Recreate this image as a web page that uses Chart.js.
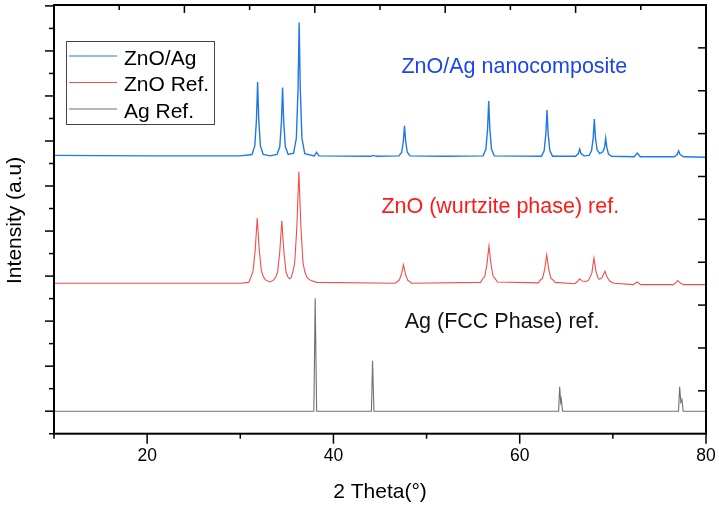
<!DOCTYPE html>
<html>
<head>
<meta charset="utf-8">
<script src="https://cdn.jsdelivr.net/npm/chart.js@4.4.1/dist/chart.umd.min.js"></script>
<style>
  html, body { margin: 0; padding: 0; background: #fff; }
  #wrap { width: 719px; height: 508px; }
</style>
</head>
<body>
<div id="wrap"><canvas id="xrd" width="719" height="508"></canvas></div>
<script>
// 2 theta ticks on the bottom axis
const thetaTicks = [20, 40, 60, 80];
const thetaMinorTicks = [10, 30, 50, 70];

// [2theta, intensity (offset, a.u.)]
const znoAgPattern = [
  [10, 5.68], [20, 5.67], [30, 5.67],
  [31.26, 5.70], [31.56, 5.89], [31.74, 6.49], [31.86, 7.31], [31.98, 6.49], [32.16, 5.89], [32.46, 5.70],
  [33.2, 5.67],
  [33.94, 5.70], [34.24, 5.87], [34.42, 6.43], [34.54, 7.19], [34.66, 6.43], [34.84, 5.87], [35.14, 5.70],
  [35.72, 5.73], [36.02, 6.06], [36.2, 7.15], [36.32, 8.63], [36.44, 7.15], [36.62, 6.06], [36.92, 5.72],
  [37.95, 5.67], [38.19, 5.75], [38.45, 5.67],
  [44.0, 5.66], [44.3, 5.68], [44.6, 5.66],
  [47.03, 5.67], [47.33, 5.75], [47.51, 6.0], [47.63, 6.34], [47.75, 6.0], [47.93, 5.75], [48.23, 5.67],
  [52, 5.66],
  [56.07, 5.67], [56.37, 5.82], [56.55, 6.27], [56.67, 6.89], [56.79, 6.27], [56.97, 5.82], [57.27, 5.67],
  [62.33, 5.66], [62.63, 5.79], [62.81, 6.17], [62.93, 6.69], [63.05, 6.17], [63.23, 5.79], [63.53, 5.66],
  [66.0, 5.66], [66.3, 5.72], [66.44, 5.82], [66.58, 5.72], [66.9, 5.67],
  [67.45, 5.68], [67.71, 5.78], [67.89, 6.07], [68.01, 6.49], [68.13, 6.07], [68.31, 5.80], [68.6, 5.72],
  [68.93, 5.76], [69.11, 5.86], [69.23, 6.06], [69.35, 5.86], [69.53, 5.71], [69.85, 5.66],
  [72.3, 5.65], [72.63, 5.73], [72.95, 5.65],
  [76.6, 5.65], [76.9, 5.70], [77.06, 5.78], [77.22, 5.70], [77.6, 5.65],
  [80, 5.64]
];

const znoRefPattern = [
  [10, 2.84], [20, 2.84], [30, 2.84],
  [30.9, 2.86], [31.17, 2.99], [31.37, 3.11], [31.6, 3.57], [31.82, 4.29], [32.04, 3.57], [32.27, 3.11], [32.47, 2.99], [32.72, 2.91],
  [33.2, 2.87],
  [33.56, 2.91], [33.81, 2.98], [34.01, 3.09], [34.24, 3.54], [34.46, 4.23], [34.68, 3.54], [34.91, 3.09], [35.11, 2.98], [35.3, 2.94],
  [35.45, 2.96], [35.64, 3.09], [35.84, 3.28], [36.07, 4.08], [36.29, 5.32], [36.51, 4.08], [36.74, 3.28], [36.94, 3.09], [37.19, 2.96],
  [37.6, 2.90], [38.2, 2.86],
  [46.62, 2.84], [46.87, 2.88], [47.07, 2.91], [47.3, 3.04], [47.52, 3.25], [47.74, 3.04], [47.97, 2.91], [48.17, 2.88], [48.42, 2.84],
  [55.8, 2.86], [56.05, 2.95], [56.25, 2.99], [56.48, 3.26], [56.7, 3.67], [56.92, 3.26], [57.15, 2.99], [57.35, 2.95], [57.6, 2.87],
  [62.0, 2.85], [62.25, 2.92], [62.45, 2.95], [62.68, 3.15], [62.9, 3.47], [63.12, 3.15], [63.35, 2.95], [63.55, 2.92], [63.8, 2.86],
  [65.9, 2.83], [66.2, 2.88], [66.44, 2.94], [66.7, 2.89], [67.1, 2.88],
  [67.4, 2.91], [67.75, 3.07], [67.97, 3.40], [68.19, 3.10], [68.45, 2.94], [68.6, 2.93],
  [68.85, 2.97], [68.98, 3.03], [69.15, 3.11], [69.35, 2.99], [69.65, 2.89], [70.1, 2.84],
  [72.2, 2.81], [72.6, 2.87], [73.0, 2.81],
  [76.5, 2.81], [76.8, 2.86], [76.98, 2.90], [77.2, 2.85], [77.6, 2.81],
  [80, 2.81]
];

const agRefPattern = [
  [10, 0], [37.9, 0], [38.04, 2.51], [38.2, 0],
  [44.08, 0], [44.2, 1.12], [44.35, 0],
  [64.18, 0], [64.29, 0.54], [64.4, 0.2], [64.47, 0.27], [64.6, 0],
  [77.05, 0], [77.17, 0.54], [77.3, 0.2], [77.42, 0.26], [77.55, 0],
  [80, 0]
];

const seriesLabels = ["ZnO/Ag", "ZnO Ref.", "Ag Ref."];
const seriesColors = ["#2179e0", "#f24c4c", "#707070"];

// text labels placed in data coordinates
const notes = [
  { text: "ZnO/Ag nanocomposite", theta: 47.3, y: 7.52, color: "#1c45f0" },
  { text: "ZnO (wurtzite phase) ref.", theta: 45.15, y: 4.39, color: "#ff1a1a" },
  { text: "Ag (FCC Phase) ref.", theta: 47.66, y: 1.85, color: "#111111" }
];

const FONT = "'Liberation Sans', Arial, sans-serif";

const toXY = (arr) => arr.map(([x, y]) => ({ x, y }));

const framePlugin = {
  id: "frame",
  afterDraw(chart) {
    const { ctx, chartArea: a, scales } = chart;
    const x = scales.x, y = scales.y, xTop = scales.x2, yRight = scales.y1;
    const line = (x1, y1, x2, y2) => {
      ctx.beginPath();
      ctx.moveTo(x1, y1);
      ctx.lineTo(x2, y2);
      ctx.stroke();
    };
    ctx.save();
    ctx.strokeStyle = "#000";
    ctx.lineWidth = 1.5;

    // bottom ticks
    thetaTicks.forEach((v) => {
      const px = x.getPixelForValue(v);
      line(px, a.bottom, px, a.bottom + 10);
    });
    thetaMinorTicks.forEach((v) => {
      const px = x.getPixelForValue(v);
      line(px, a.bottom, px, a.bottom + 5);
    });
    // left ticks
    for (let v = -0.5; v <= 9; v += 0.5) {
      const py = y.getPixelForValue(v);
      const len = Number.isInteger(v) ? 9 : 5;
      line(a.left - len, py, a.left, py);
    }
    // top ticks (inside)
    for (let v = 1; v < 10; v++) {
      const px = xTop.getPixelForValue(v);
      line(px, a.top, px, a.top + (v % 2 === 0 ? 8 : 5));
    }
    // right ticks (inside)
    for (let v = 1; v < 10; v++) {
      const py = yRight.getPixelForValue(v);
      line(a.right - 8, py, a.right, py);
    }

    ctx.lineWidth = 2;
    ctx.strokeRect(a.left, a.top, a.right - a.left, a.bottom - a.top);

    // tick labels
    ctx.fillStyle = "#000";
    ctx.font = "17.5px " + FONT;
    ctx.textAlign = "center";
    ctx.textBaseline = "alphabetic";
    thetaTicks.forEach((v) => {
      ctx.fillText(String(v), x.getPixelForValue(v), a.bottom + 27.5);
    });

    // axis titles
    ctx.font = "21px " + FONT;
    ctx.fillText("2 Theta(\u00B0)", (a.left + a.right) / 2, a.bottom + 64.5);
    ctx.save();
    ctx.translate(15, (a.top + a.bottom) / 2 + 1);
    ctx.rotate(-Math.PI / 2);
    ctx.textBaseline = "middle";
    ctx.fillText("Intensity (a.u)", 0, 0);
    ctx.restore();

    // notes
    ctx.font = "21.5px " + FONT;
    ctx.textAlign = "left";
    notes.forEach((n) => {
      ctx.fillStyle = n.color;
      ctx.fillText(n.text, x.getPixelForValue(n.theta), y.getPixelForValue(n.y));
    });

    // legend box
    const bx = a.left + 12.5, by = a.top + 36.5, bw = 148, bh = 83;
    ctx.fillStyle = "#fff";
    ctx.fillRect(bx, by, bw, bh);
    ctx.strokeStyle = "#444";
    ctx.lineWidth = 1;
    ctx.strokeRect(bx, by, bw, bh);
    ctx.font = "21px " + FONT;
    chart.data.datasets.forEach((ds, i) => {
      const ly = by + 14.5 + i * 26.5;
      ctx.strokeStyle = ds.borderColor;
      ctx.lineWidth = 1.2;
      line(bx + 2.5, ly, bx + 50.5, ly);
      ctx.fillStyle = "#000";
      ctx.fillText(ds.label, bx + 57.5, ly + 8.5);
    });
    ctx.restore();
  }
};

const patterns = [znoAgPattern, znoRefPattern, agRefPattern];

new Chart(document.getElementById("xrd"), {
  type: "line",
  data: {
    datasets: patterns.map((p, i) => ({
      label: seriesLabels[i],
      data: toXY(p),
      borderColor: seriesColors[i],
      borderWidth: i === 0 ? 1.4 : 1.1,
      pointRadius: 0,
      tension: 0,
      fill: false
    }))
  },
  options: {
    responsive: false,
    animation: false,
    devicePixelRatio: 1,
    layout: { padding: { left: 54, right: 13, top: 5, bottom: 74.3 } },
    plugins: { legend: { display: false }, tooltip: { enabled: false } },
    scales: {
      x: { type: "linear", min: 10, max: 80, display: false },
      y: { type: "linear", min: -0.5, max: 9.02, display: false },
      x2: { type: "linear", position: "top", min: 0, max: 10, display: false },
      y1: { type: "linear", position: "right", min: 0, max: 10, display: false }
    }
  },
  plugins: [framePlugin]
});
</script>
</body>
</html>
